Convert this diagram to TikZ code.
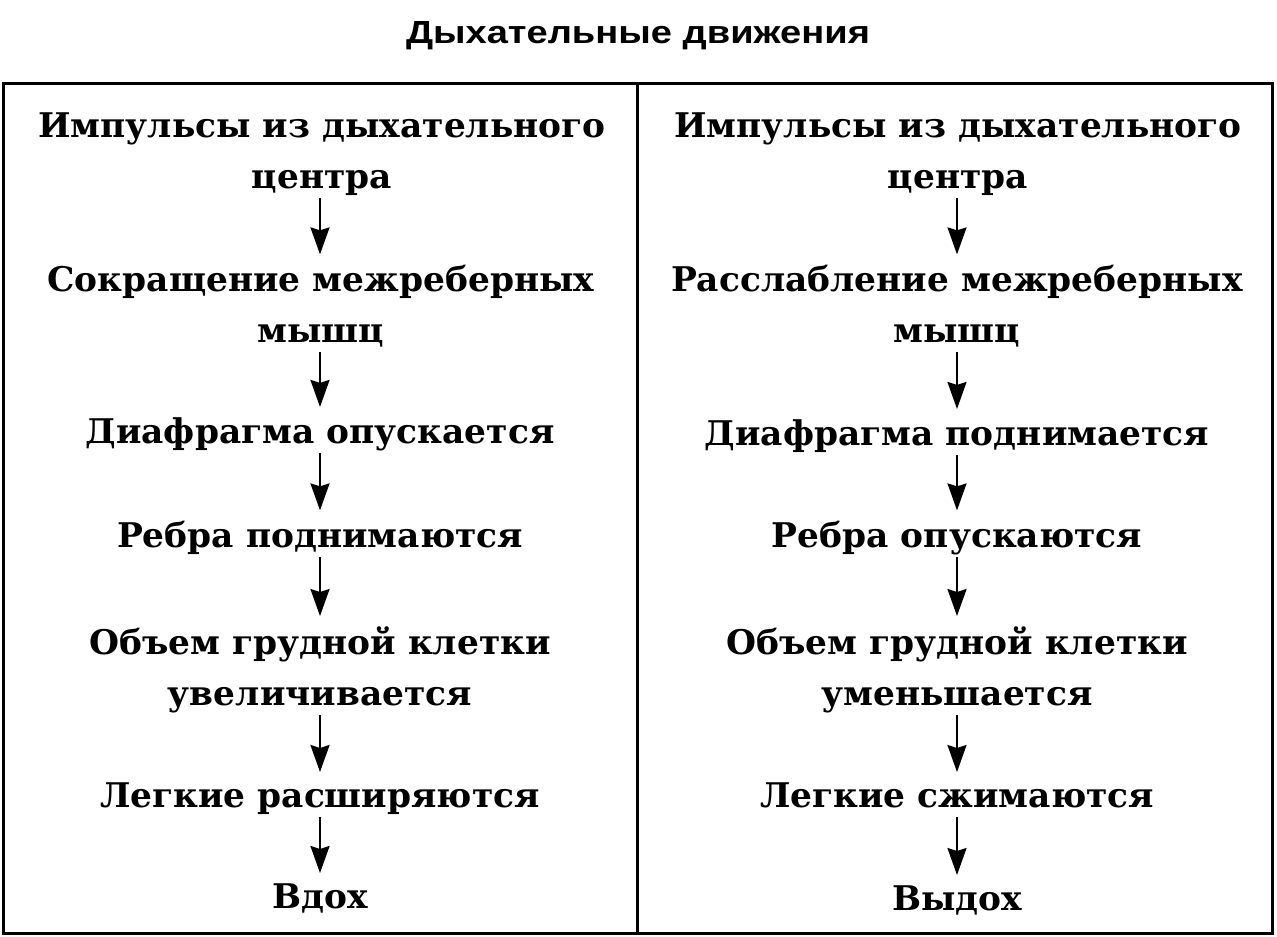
\documentclass[tikz,border=0pt]{standalone}
\usepackage{fontspec}
\setmainfont{DejaVu Serif}[FakeStretch=1.012]
\newfontfamily\titlefont{Liberation Sans}[FakeStretch=1.19]
\usetikzlibrary{arrows.meta}
\newcommand\dpstrut{\vphantom{у}}
\tikzset{
  txt/.style={align=center, inner sep=0pt, anchor=base, font=\bfseries\fontsize{34}{51}\selectfont},
  arr/.style={line width=2.2pt, -{Stealth[width=19pt,length=27pt,inset=3pt]}, shorten <=2pt, shorten >=10pt},
}
\begin{document}
\begin{tikzpicture}[x=1pt,y=1pt]
\useasboundingbox (0,0) rectangle (1277,-937);
\node[font=\titlefont\bfseries\fontsize{32}{32}\selectfont, anchor=base] (title) at (638,-43) {Дыхательные движения};
\draw[line width=3pt] (3,-83) rectangle (1272,-933);
\draw[line width=3pt] (637,-83) -- (637,-933);
% left column (base anchor = last line baseline)
\node[txt] (l1) at (322,-188) {Импульсы из дыхательного\\центра\dpstrut};
\node[txt] (l2) at (321,-342) {Сокращение межреберных\\мышц\dpstrut};
\node[txt] (l3) at (320,-443) {Диафрагма опускается\dpstrut};
\node[txt] (l4) at (320,-547) {Ребра поднимаются\dpstrut};
\node[txt] (l5) at (320,-705) {Объем грудной клетки\\увеличивается\dpstrut};
\node[txt] (l6) at (320,-807) {Легкие расширяются\dpstrut};
\node[txt] (l7) at (320,-908) {Вдох\dpstrut};
% right column
\node[txt] (r1) at (958,-188) {Импульсы из дыхательного\\центра\dpstrut};
\node[txt] (r2) at (957,-342) {Расслабление межреберных\\мышц\dpstrut};
\node[txt] (r3) at (957,-445) {Диафрагма поднимается\dpstrut};
\node[txt] (r4) at (957,-547) {Ребра опускаются\dpstrut};
\node[txt] (r5) at (957,-705) {Объем грудной клетки\\уменьшается\dpstrut};
\node[txt] (r6) at (957,-807) {Легкие сжимаются\dpstrut};
\node[txt] (r7) at (957,-910) {Выдох\dpstrut};
\foreach \a/\b in {l1/l2,l2/l3,l3/l4,l4/l5,l5/l6,l6/l7}{
  \draw[arr] (\a.south -| 320,0) -- (\b.north -| 320,0);
}
\foreach \a/\b in {r1/r2,r2/r3,r3/r4,r4/r5,r5/r6,r6/r7}{
  \draw[arr] (\a.south -| 957,0) -- (\b.north -| 957,0);
}
\end{tikzpicture}
\end{document}
